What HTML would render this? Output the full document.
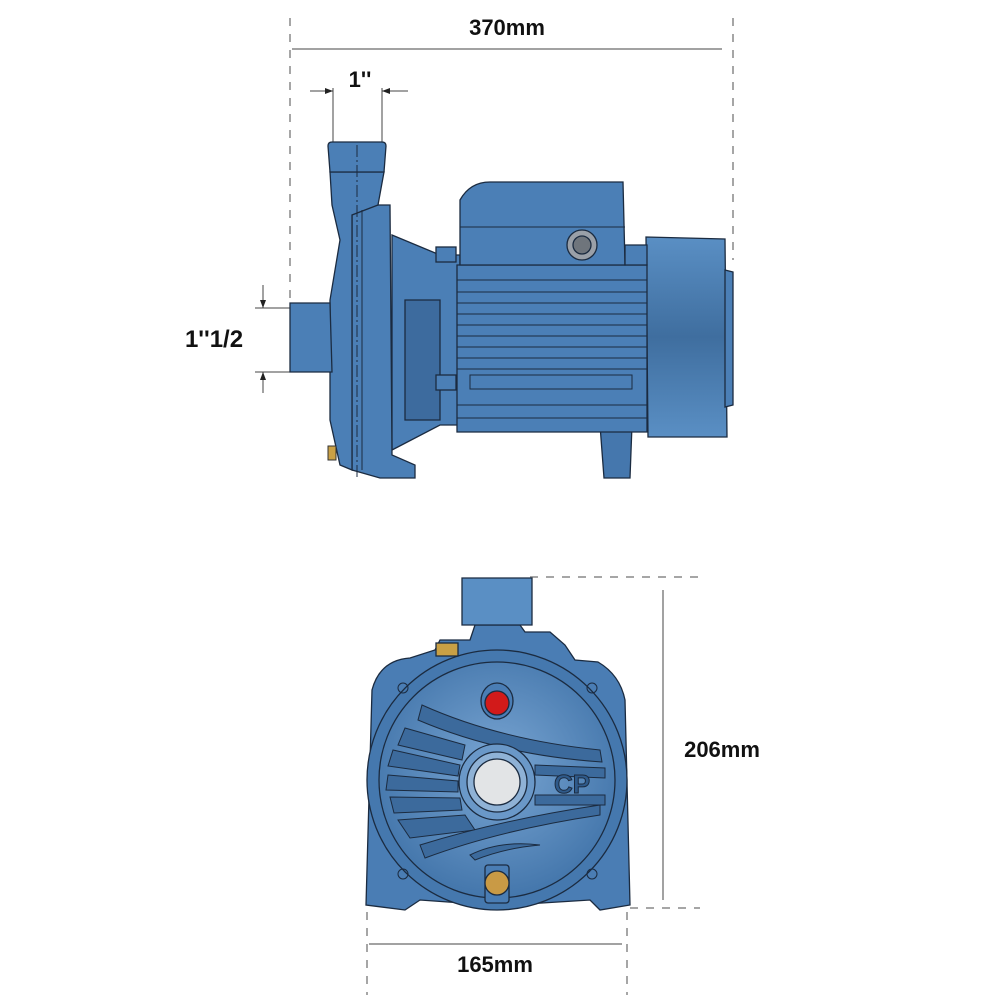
<!DOCTYPE html>
<html><head><meta charset="utf-8"><style>html,body{margin:0;padding:0;background:#fff}svg{display:block}</style></head>
<body>
<svg width="1000" height="1000" viewBox="0 0 1000 1000" xmlns="http://www.w3.org/2000/svg" font-family="Liberation Sans, Arial, sans-serif">
<defs>
<linearGradient id="fan" x1="0" y1="0" x2="0" y2="1"><stop offset="0" stop-color="#5a8fc4"/><stop offset="0.5" stop-color="#3f6e9f"/><stop offset="1" stop-color="#5a8fc4"/></linearGradient>
<radialGradient id="front" cx="0.5" cy="0.45" r="0.6"><stop offset="0" stop-color="#7aa6d3"/><stop offset="1" stop-color="#3f72a8"/></radialGradient>
<marker id="ar" markerWidth="8" markerHeight="6" refX="8" refY="3" orient="auto"><path d="M0,0 L8,3 L0,6z" fill="#222"/></marker>
</defs>
<g stroke="#888" stroke-width="1.5" stroke-dasharray="8,8" fill="none">
<line x1="290" y1="18" x2="290" y2="300"/>
<line x1="733" y1="18" x2="733" y2="260"/>
<line x1="530" y1="577" x2="700" y2="577"/>
<line x1="630" y1="908" x2="700" y2="908"/>
<line x1="367" y1="912" x2="367" y2="995"/>
<line x1="627" y1="912" x2="627" y2="995"/>
</g>
<g stroke="#444" stroke-width="1" fill="none">
<line x1="292" y1="49" x2="722" y2="49"/>
<line x1="333" y1="88" x2="333" y2="142"/>
<line x1="382" y1="88" x2="382" y2="142"/>
<line x1="310" y1="91" x2="333" y2="91" marker-end="url(#ar)"/>
<line x1="408" y1="91" x2="382" y2="91" marker-end="url(#ar)"/>
<line x1="255" y1="308" x2="292" y2="308"/>
<line x1="255" y1="372" x2="292" y2="372"/>
<line x1="263" y1="285" x2="263" y2="308" marker-end="url(#ar)"/>
<line x1="263" y1="393" x2="263" y2="372" marker-end="url(#ar)"/>
<line x1="663" y1="590" x2="663" y2="900"/>
<line x1="369" y1="944" x2="622" y2="944"/>
</g>
<g font-weight="bold" fill="#111" text-anchor="middle">
<text x="507" y="35" font-size="22">370mm</text>
<text x="360" y="87" font-size="22">1''</text>
<text x="214" y="347" font-size="24">1''1/2</text>
<text x="722" y="757" font-size="22">206mm</text>
<text x="495" y="972" font-size="22">165mm</text>
</g>
<!-- TOP PUMP -->
<g stroke="#1b2b40" stroke-width="1.3" fill="#4b7fb6">
<path d="M646,237 L725,239 L727,437 L648,437 Z" fill="url(#fan)"/>
<path d="M725,270 L733,272 L733,405 L725,407Z"/>
<path d="M600,425 L632,425 L630,478 L604,478Z" fill="#4577ad"/>
<path d="M392,235 L440,255 L460,255 L460,425 L440,425 L392,450Z"/>
<path d="M405,300 L440,300 L440,420 L405,420Z" fill="#3d6b9e"/>
<path d="M457,265 L647,265 L647,432 L457,432 Z"/>
<path d="M460,200 Q470,182 490,182 L623,182 L625,265 L460,265Z"/>
<path d="M625,245 L647,245 L647,265 L625,265Z"/>
<circle cx="582" cy="245" r="15" fill="#9aa0a8"/>
<circle cx="582" cy="245" r="9" fill="#6f757c"/>
<path d="M352,205 L390,205 L392,455 L415,465 L415,478 L380,478 L352,470Z"/>
<path d="M330,172 L384,172 L378,205 L352,215 L352,470 L340,465 L330,420 L330,300 L340,240 L332,205Z"/>
<path d="M328,146 Q328,142 332,142 L382,142 Q386,142 386,146 L384,172 L330,172Z"/>
<path d="M290,303 L330,303 L332,372 L290,372Z"/>
<rect x="436" y="247" width="20" height="15" />
<rect x="436" y="375" width="20" height="15" />
</g>
<g stroke="#1b2b40" stroke-width="1" fill="none">
<line x1="457" y1="280" x2="647" y2="280"/><line x1="457" y1="292" x2="647" y2="292"/>
<line x1="457" y1="303" x2="647" y2="303"/><line x1="457" y1="314" x2="647" y2="314"/>
<line x1="457" y1="325" x2="647" y2="325"/><line x1="457" y1="336" x2="647" y2="336"/>
<line x1="457" y1="347" x2="647" y2="347"/><line x1="457" y1="358" x2="647" y2="358"/>
<line x1="457" y1="369" x2="647" y2="369"/>
<rect x="470" y="375" width="162" height="14"/>
<line x1="457" y1="405" x2="647" y2="405"/><line x1="457" y1="418" x2="647" y2="418"/>
<line x1="460" y1="227" x2="625" y2="227"/>
<line x1="362" y1="210" x2="362" y2="470"/>
<line x1="357" y1="145" x2="357" y2="480" stroke-dasharray="12,3,2,3"/>
</g>
<rect x="328" y="446" width="8" height="14" fill="#c9a045" stroke="#333"/>
<!-- BOTTOM PUMP -->
<g stroke="#1b2b40" stroke-width="1.3">
<path d="M366,905 L372,690 Q380,660 410,658 L435,650 L440,640 L470,640 L475,625 L520,625 L525,632 L550,632 L565,645 L575,660 L598,662 Q620,675 625,700 L630,905 L600,910 L590,900 L510,905 L490,905 L420,900 L405,910 Z" fill="#4a7db4"/>
<path d="M462,578 L532,578 L532,625 L462,625Z" fill="#5a8fc4"/>
<circle cx="497" cy="780" r="130" fill="#4578ae"/>
<circle cx="497" cy="780" r="118" fill="url(#front)"/>
<g fill="#3c6a9c" stroke-width="1">
<path d="M422,705 Q500,740 600,750 L602,762 Q500,755 418,720Z"/>
<path d="M405,728 L465,745 L462,760 L398,745Z"/>
<path d="M393,750 L460,765 L458,776 L388,766Z"/>
<path d="M388,775 L458,781 L458,792 L386,790Z"/>
<path d="M390,797 L460,798 L462,810 L394,813Z"/>
<path d="M398,820 L465,815 L475,830 L410,838Z"/>
<path d="M420,845 Q500,820 600,805 L600,815 Q500,830 425,858Z"/>
<path d="M535,765 L605,768 L605,778 L535,775Z"/>
<path d="M535,795 L605,795 L605,805 L535,805Z"/>
<path d="M470,855 Q500,840 540,845 Q505,848 475,860Z"/>
</g>
<circle cx="497" cy="782" r="38" fill="#6a98c8"/>
<circle cx="497" cy="782" r="30" fill="#8fb2d6"/>
<circle cx="497" cy="782" r="23" fill="#e2e4e6"/>
<ellipse cx="497" cy="701" rx="16" ry="18" fill="#4a7db4"/>
<circle cx="497" cy="703" r="12" fill="#d21a1a"/>
<rect x="485" y="865" width="24" height="38" rx="3" fill="#4a7db4"/>
<circle cx="497" cy="883" r="12" fill="#c99a45"/>
<rect x="436" y="643" width="22" height="13" fill="#c9a045"/>
</g>
<text x="572" y="793" font-size="26" font-weight="bold" fill="#2f5a8a" stroke="#1b2b40" stroke-width="1" text-anchor="middle">CP</text>
<g fill="none" stroke="#1b2b40" stroke-width="1"><circle cx="403" cy="688" r="5"/><circle cx="592" cy="688" r="5"/><circle cx="403" cy="874" r="5"/><circle cx="592" cy="874" r="5"/></g>
</svg>
</body></html>
